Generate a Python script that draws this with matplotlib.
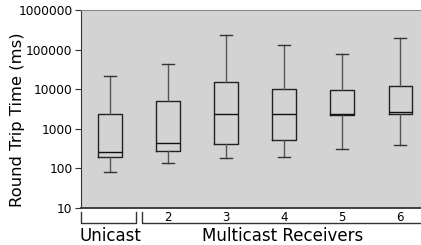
import matplotlib
matplotlib.use("Agg")
import matplotlib.pyplot as plt
import matplotlib.transforms as mtransforms

# box stats (ms)
groups = ["Unicast", "2", "3", "4", "5", "6"]
whislo = [83, 137, 179, 194, 309, 390]
q1 = [198, 275, 405, 512, 2230, 2320]
med = [264, 438, 2320, 2320, 2410, 2710]
q3 = [2365, 4950, 14900, 9930, 9370, 11800]
whishi = [21200, 42500, 238000, 133000, 76000, 196000]

yticks = [10, 100, 1000, 10000, 100000, 1000000]
xlabels_multi = ["2", "3", "4", "5", "6"]

fig = plt.figure(figsize=(4.21, 2.45), dpi=100)
ax = fig.add_axes([81/421, 1 - 208/245, 1 - 81/421, 198/245])
ax.set_facecolor("#d3d3d3")

stats = []
for i in range(len(groups)):
    stats.append(dict(whislo=whislo[i], q1=q1[i], med=med[i], q3=q3[i],
                      whishi=whishi[i], fliers=[]))

pos = list(range(1, len(groups) + 1))
ax.bxp(stats, positions=pos, widths=0.4, showfliers=False,
       boxprops=dict(color="#222222", linewidth=1),
       medianprops=dict(color="#111111", linewidth=1),
       whiskerprops=dict(color="#555555", linewidth=1),
       capprops=dict(color="#333333", linewidth=1))

ax.set_yscale("log")
ax.set_ylim(10, 1000000)
ax.set_yticks(yticks)
ax.set_yticklabels([str(t) for t in yticks], fontsize=8.8)
ax.minorticks_off()
ax.set_xlim(0.5, 6.36)
ax.set_xticks(pos[1:])
ax.set_xticklabels(xlabels_multi, fontsize=8.5)
ax.tick_params(axis="x", length=0, pad=2)
ax.tick_params(axis="y", length=4, color="#333333", pad=2)
fig.text(18/421, 1 - 120/245, "Round Trip Time (ms)", rotation=90,
         ha="center", va="center", fontsize=11.8)

ax.spines["right"].set_visible(False)
ax.spines["top"].set_color("#888888")
ax.spines["left"].set_color("#333333")
ax.spines["bottom"].set_color("#333333")
ax.spines["bottom"].set_linewidth(1.3)

# group brackets under the axis
trans = mtransforms.blended_transform_factory(ax.transData, ax.transAxes)
yb, yt = -0.075, -0.02
for x0, x1 in [(0.5, 1.45), (1.55, 6.5)]:
    ax.plot([x0, x0, x1, x1], [yt, yb, yb, yt], color="#333333", lw=1,
            transform=trans, clip_on=False)
ax.text(1.0, -0.14, "Unicast", transform=trans, ha="center", va="center",
        fontsize=12)
ax.text(3.97, -0.14, "Multicast Receivers", transform=trans, ha="center",
        va="center", fontsize=12)

fig.savefig("out.png", dpi=100)
